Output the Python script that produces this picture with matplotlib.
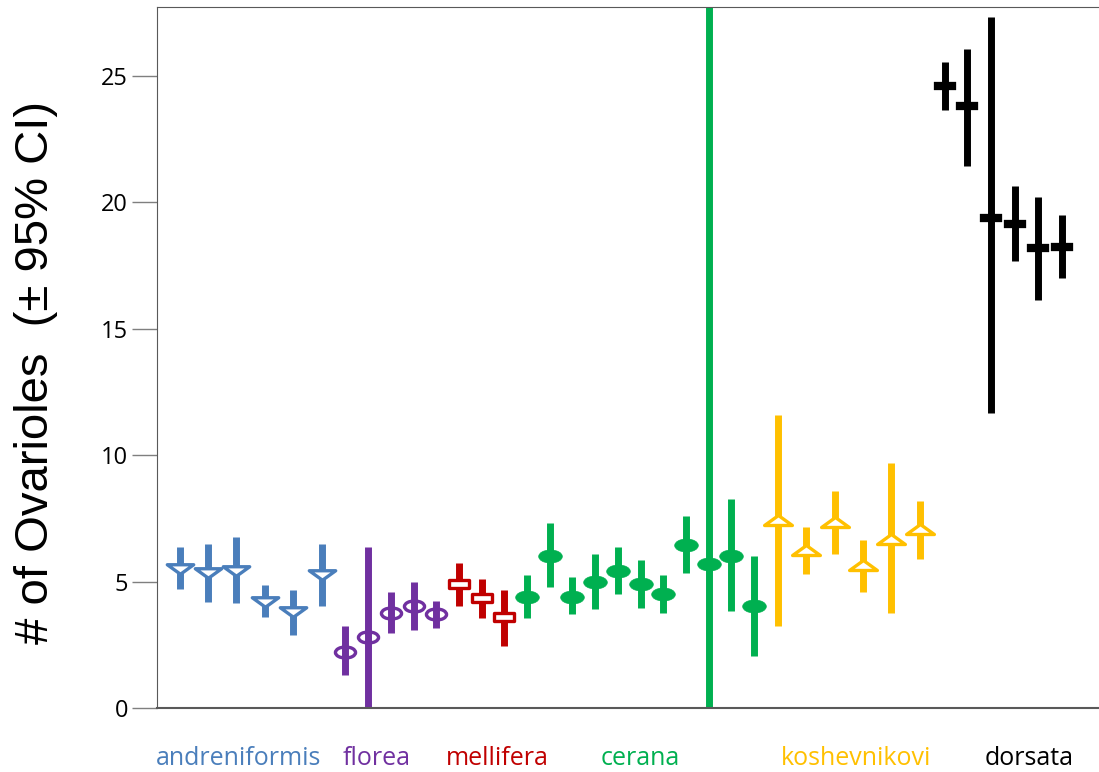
import matplotlib
matplotlib.use("Agg")
import matplotlib.pyplot as plt
from matplotlib.path import Path
from matplotlib.transforms import blended_transform_factory

# per-species colonies: x position, mean, and 95% CI bounds
andren_x = [1.0, 2.25, 3.5, 4.75, 6.0, 7.25]
andren_mean = [5.5, 5.35, 5.4, 4.2, 3.8, 5.25]
andren_lo = [4.7, 4.2, 4.15, 3.6, 2.9, 4.05]
andren_hi = [6.35, 6.5, 6.75, 4.85, 4.65, 6.5]

florea_x = [8.3, 9.3, 10.3, 11.3, 12.3]
florea_mean = [2.2, 2.8, 3.75, 4.05, 3.7]
florea_lo = [1.3, -1.0, 2.95, 3.1, 3.15]
florea_hi = [3.25, 6.35, 4.6, 5.0, 4.25]

mellifera_x = [13.3, 14.3, 15.3]
mellifera_mean = [4.9, 4.35, 3.6]
mellifera_lo = [4.05, 3.55, 2.45]
mellifera_hi = [5.75, 5.1, 4.65]

cerana_x = [16.3, 17.3, 18.3, 19.3, 20.3, 21.3, 22.3, 23.3, 24.3, 25.3, 26.3]
cerana_mean = [4.4, 6.0, 4.4, 5.0, 5.4, 4.9, 4.5, 6.45, 5.7, 6.0, 4.05]
cerana_lo = [3.55, 4.8, 3.7, 3.9, 4.5, 3.95, 3.75, 5.35, -5.0, 3.85, 2.05]
cerana_hi = [5.25, 7.3, 5.2, 6.1, 6.35, 5.85, 5.25, 7.6, 35.0, 8.25, 6.0]

kosh_x = [27.35, 28.6, 29.85, 31.1, 32.35, 33.6]
kosh_mean = [7.45, 6.25, 7.35, 5.65, 6.7, 7.1]
kosh_lo = [3.25, 5.3, 6.1, 4.6, 3.75, 5.9]
kosh_hi = [11.6, 7.15, 8.6, 6.65, 9.7, 8.2]

dorsata_x = [34.7, 35.7, 36.75, 37.8, 38.8, 39.85]
dorsata_mean = [24.6, 23.8, 19.4, 19.15, 18.2, 18.25]
dorsata_lo = [23.65, 21.45, 11.65, 17.7, 16.15, 17.0]
dorsata_hi = [25.55, 26.05, 27.35, 20.65, 20.2, 19.5]

species = ["andreniformis", "florea", "mellifera", "cerana", "koshevnikovi", "dorsata"]
label_x = [3.57, 9.69, 14.98, 21.28, 30.79, 38.4]
yticks = [0, 5, 10, 15, 20, 25]


def ellipse(sx, sy):
    circ = Path.unit_circle()
    return Path(circ.vertices * [sx, sy], circ.codes)


down_tri = Path([(-1, 0.36), (1, 0.36), (0, -0.36), (-1, 0.36)], closed=True)
up_tri = Path([(-1, -0.36), (1, -0.36), (0, 0.36), (-1, -0.36)], closed=True)
oval = ellipse(1.0, 0.55)
rect = Path([(-1, -0.42), (1, -0.42), (1, 0.42), (-1, 0.42), (-1, -0.42)], closed=True)
dash = Path([(-1, -0.33), (1, -0.33), (1, 0.33), (-1, 0.33), (-1, -0.33)], closed=True)

groups = [
    (andren_x, andren_mean, andren_lo, andren_hi, "#4a7ebb", down_tri, 19, "white", 2.4),
    (florea_x, florea_mean, florea_lo, florea_hi, "#7030a0", oval, 14.5, "none", 2.4),
    (mellifera_x, mellifera_mean, mellifera_lo, mellifera_hi, "#c00000", rect, 15, "white", 2.4),
    (cerana_x, cerana_mean, cerana_lo, cerana_hi, "#00b050", oval, 17, "#00b050", 0.5),
    (kosh_x, kosh_mean, kosh_lo, kosh_hi, "#ffc000", up_tri, 20, "white", 2.4),
    (dorsata_x, dorsata_mean, dorsata_lo, dorsata_hi, "black", dash, 16, "black", 0.2),
]

fig = plt.figure(figsize=(10.99, 7.72), dpi=100)
ax = fig.add_axes([0.1429, 0.0829, 0.8571, 0.9081])

for xs, mean, lo, hi, color, marker, ms, face, mew in groups:
    ax.vlines(xs, lo, hi, color=color, lw=5, zorder=2)
    ax.plot(xs, mean, ls="none", marker=marker, ms=ms, mfc=face, mec=color,
            mew=mew, zorder=3)

ax.set_xlim(0, 41.5)
ax.set_ylim(0, 27.73)
ax.set_xticks([])
ax.set_yticks(yticks)
ax.tick_params(axis="y", length=18, width=1, color="#7f7f7f", labelsize=17, pad=3)
for lab in ax.get_yticklabels():
    lab.set_family("Open Sans")

ax.spines["right"].set_visible(False)
ax.spines["left"].set_color("#595959")
ax.spines["top"].set_color("#595959")
ax.spines["bottom"].set_color("#595959")
ax.spines["bottom"].set_linewidth(1.5)

ax.set_ylabel("# of Ovarioles  (\u00b1 95% CI)", fontsize=34,
              family="Liberation Sans")
ax.yaxis.set_label_coords(-0.105, 0.479)

trans = blended_transform_factory(ax.transData, ax.transAxes)
for name, lx, (_, _, _, _, color, _, _, _, _) in zip(species, label_x, groups):
    ax.text(lx, -0.0813, name, transform=trans, ha="center", va="baseline",
            fontsize=18, family="Open Sans", color=color)

fig.savefig("out.png", dpi=100)
